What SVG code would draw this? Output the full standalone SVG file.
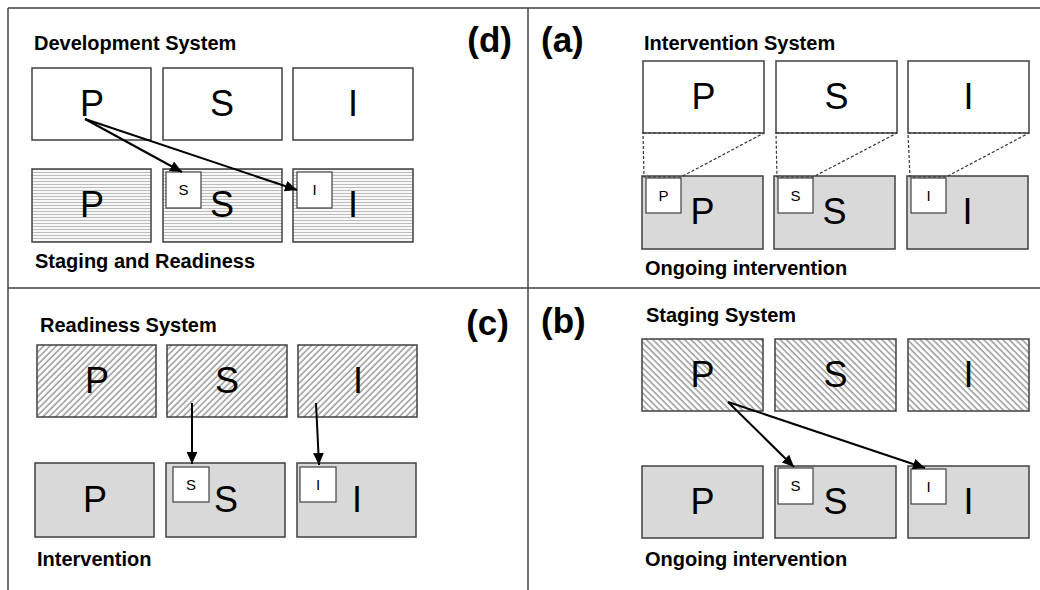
<svg xmlns="http://www.w3.org/2000/svg" width="1040" height="590" viewBox="0 0 1040 590">
<style>
.frame{stroke:#404040;stroke-width:1.5;fill:none}
.box{stroke:#404040;stroke-width:1.5;fill:#fff}
.gray{stroke:#404040;stroke-width:1.5;fill:#d9d9d9}
.hs{stroke:#404040;stroke-width:1.5;fill:url(#hstripe)}
.fw{stroke:#404040;stroke-width:1.5;fill:url(#hatchF)}
.bw{stroke:#404040;stroke-width:1.5;fill:url(#hatchB)}
.small{stroke:#404040;stroke-width:1.2;fill:#fff}
.big{font-family:"Liberation Sans",Arial,sans-serif;font-size:36px;fill:#000;text-anchor:middle}
.sm{font-family:"Liberation Sans",Arial,sans-serif;font-size:15px;fill:#000;text-anchor:middle}
.lbl{font-family:"Liberation Sans",Arial,sans-serif;font-size:20px;font-weight:bold;fill:#000}
.pl{font-family:"Liberation Sans",Arial,sans-serif;font-size:35px;font-weight:bold;fill:#000}
.arr{stroke:#000;stroke-width:2;fill:none;marker-end:url(#ah)}
.dash{stroke:#333;stroke-width:1.2;fill:none;stroke-dasharray:3,2}
</style>
<defs>
<marker id="ah" viewBox="0 0 10 10" refX="10" refY="5" markerWidth="6" markerHeight="6" orient="auto" markerUnits="strokeWidth"><path d="M0,0.5 L10,5 L0,9.5 z" fill="#000"/></marker>
<pattern id="hstripe" patternUnits="userSpaceOnUse" width="6" height="3"><rect width="6" height="3" fill="#fff"/><line x1="0" y1="1.5" x2="6" y2="1.5" stroke="#bcbcbc" stroke-width="1.2"/></pattern>
<pattern id="hatchF" patternUnits="userSpaceOnUse" width="4.5" height="4.5" patternTransform="rotate(45)"><rect width="4.5" height="4.5" fill="#fff"/><line x1="1" y1="0" x2="1" y2="4.5" stroke="#a0a0a0" stroke-width="1.6"/></pattern>
<pattern id="hatchB" patternUnits="userSpaceOnUse" width="4.5" height="4.5" patternTransform="rotate(-45)"><rect width="4.5" height="4.5" fill="#fff"/><line x1="1" y1="0" x2="1" y2="4.5" stroke="#a0a0a0" stroke-width="1.6"/></pattern>
</defs>
<rect width="1040" height="590" fill="#fff"/>
<g id="frame" class="frame">
<line x1="8" y1="8" x2="1040" y2="8"/>
<line x1="8" y1="8" x2="8" y2="590"/>
<line x1="8" y1="288" x2="1040" y2="288"/>
<line x1="528" y1="8" x2="528" y2="590"/>
</g>

<!-- Panel d -->
<g id="panel-d">
<text class="pl" x="512" y="52" text-anchor="end">(d)</text>
<text class="lbl" x="34" y="50">Development System</text>
<text class="lbl" x="35" y="268">Staging and Readiness</text>
<g id="d-top-P"><rect class="box" x="32" y="68" width="119" height="72"/><text class="big" x="92" y="116">P</text></g>
<g id="d-top-S"><rect class="box" x="163" y="68" width="119" height="72"/><text class="big" x="222" y="116">S</text></g>
<g id="d-top-I"><rect class="box" x="293" y="68" width="120" height="72"/><text class="big" x="353" y="116">I</text></g>
<g id="d-bot-P"><rect class="hs" x="32" y="169" width="119" height="73"/><text class="big" x="92" y="217">P</text></g>
<g id="d-bot-S"><rect class="hs" x="163" y="169" width="119" height="73"/><text class="big" x="222" y="217">S</text><rect class="small" x="166" y="172" width="35" height="36"/><text class="sm" x="183.5" y="195">S</text></g>
<g id="d-bot-I"><rect class="hs" x="293" y="169" width="120" height="73"/><text class="big" x="353" y="217">I</text><rect class="small" x="297" y="172" width="35" height="36"/><text class="sm" x="314.5" y="195">I</text></g>
</g>

<!-- Panel a -->
<g id="panel-a">
<text class="pl" x="541" y="52">(a)</text>
<text class="lbl" x="644" y="50">Intervention System</text>
<text class="lbl" x="645" y="275">Ongoing intervention</text>
<g id="a-top-P"><rect class="box" x="643" y="61" width="121" height="72"/><text class="big" x="703.5" y="109">P</text></g>
<g id="a-top-S"><rect class="box" x="776" y="61" width="121" height="72"/><text class="big" x="836.5" y="109">S</text></g>
<g id="a-top-I"><rect class="box" x="908" y="61" width="121" height="72"/><text class="big" x="968.5" y="109">I</text></g>
<g id="a-bot-P"><rect class="gray" x="642" y="176" width="121" height="73"/><text class="big" x="702.5" y="224">P</text><rect class="small" x="646" y="178" width="35" height="35"/><text class="sm" x="663.5" y="201">P</text></g>
<g id="a-bot-S"><rect class="gray" x="774" y="176" width="121" height="73"/><text class="big" x="834.5" y="224">S</text><rect class="small" x="778" y="178" width="35" height="35"/><text class="sm" x="795.5" y="201">S</text></g>
<g id="a-bot-I"><rect class="gray" x="907" y="176" width="121" height="73"/><text class="big" x="967.5" y="224">I</text><rect class="small" x="911" y="178" width="35" height="35"/><text class="sm" x="928.5" y="201">I</text></g>
</g>

<!-- Panel c -->
<g id="panel-c">
<text class="pl" x="509" y="335" text-anchor="end">(c)</text>
<text class="lbl" x="40" y="332">Readiness System</text>
<text class="lbl" x="37" y="566">Intervention</text>
<g id="c-top-P"><rect class="fw" x="37" y="345" width="119" height="72"/><text class="big" x="97" y="393">P</text></g>
<g id="c-top-S"><rect class="fw" x="167" y="345" width="120" height="72"/><text class="big" x="227" y="393">S</text></g>
<g id="c-top-I"><rect class="fw" x="298" y="345" width="119" height="72"/><text class="big" x="358" y="393">I</text></g>
<g id="c-bot-P"><rect class="gray" x="35" y="463" width="119" height="74"/><text class="big" x="95" y="512">P</text></g>
<g id="c-bot-S"><rect class="gray" x="166" y="463" width="119" height="74"/><text class="big" x="226" y="512">S</text><rect class="small" x="173" y="467" width="36" height="35"/><text class="sm" x="191" y="490">S</text></g>
<g id="c-bot-I"><rect class="gray" x="297" y="463" width="119" height="74"/><text class="big" x="357" y="512">I</text><rect class="small" x="300" y="467" width="36" height="35"/><text class="sm" x="318" y="490">I</text></g>
</g>

<!-- Panel b -->
<g id="panel-b">
<text class="pl" x="541" y="333">(b)</text>
<text class="lbl" x="646" y="322">Staging System</text>
<text class="lbl" x="645" y="566">Ongoing intervention</text>
<g id="b-top-P"><rect class="bw" x="642" y="339" width="121" height="72"/><text class="big" x="702.5" y="387">P</text></g>
<g id="b-top-S"><rect class="bw" x="775" y="339" width="121" height="72"/><text class="big" x="835.5" y="387">S</text></g>
<g id="b-top-I"><rect class="bw" x="908" y="339" width="121" height="72"/><text class="big" x="968.5" y="387">I</text></g>
<g id="b-bot-P"><rect class="gray" x="642" y="466" width="121" height="72"/><text class="big" x="702.5" y="514">P</text></g>
<g id="b-bot-S"><rect class="gray" x="775" y="466" width="121" height="72"/><text class="big" x="835.5" y="514">S</text><rect class="small" x="778" y="468" width="35" height="36"/><text class="sm" x="795.5" y="491">S</text></g>
<g id="b-bot-I"><rect class="gray" x="908" y="466" width="121" height="72"/><text class="big" x="968.5" y="514">I</text><rect class="small" x="911" y="469" width="35" height="35"/><text class="sm" x="928.5" y="492">I</text></g>
</g>

<g id="connectors">
<line class="arr" x1="85" y1="119" x2="182" y2="172"/>
<line class="arr" x1="85" y1="119" x2="297" y2="190"/>
<line class="arr" x1="192" y1="403" x2="192" y2="464"/>
<line class="arr" x1="316" y1="403" x2="319" y2="465"/>
<line class="arr" x1="728" y1="402" x2="794" y2="467"/>
<line class="arr" x1="728" y1="402" x2="925" y2="468"/>
<polygon class="dash" points="643,133 764,133 681,177 644,177"/>
<polygon class="dash" points="776,133 897,133 813,177 777,177"/>
<polygon class="dash" points="908,133 1029,133 946,177 910,177"/>
</g>
</svg>
